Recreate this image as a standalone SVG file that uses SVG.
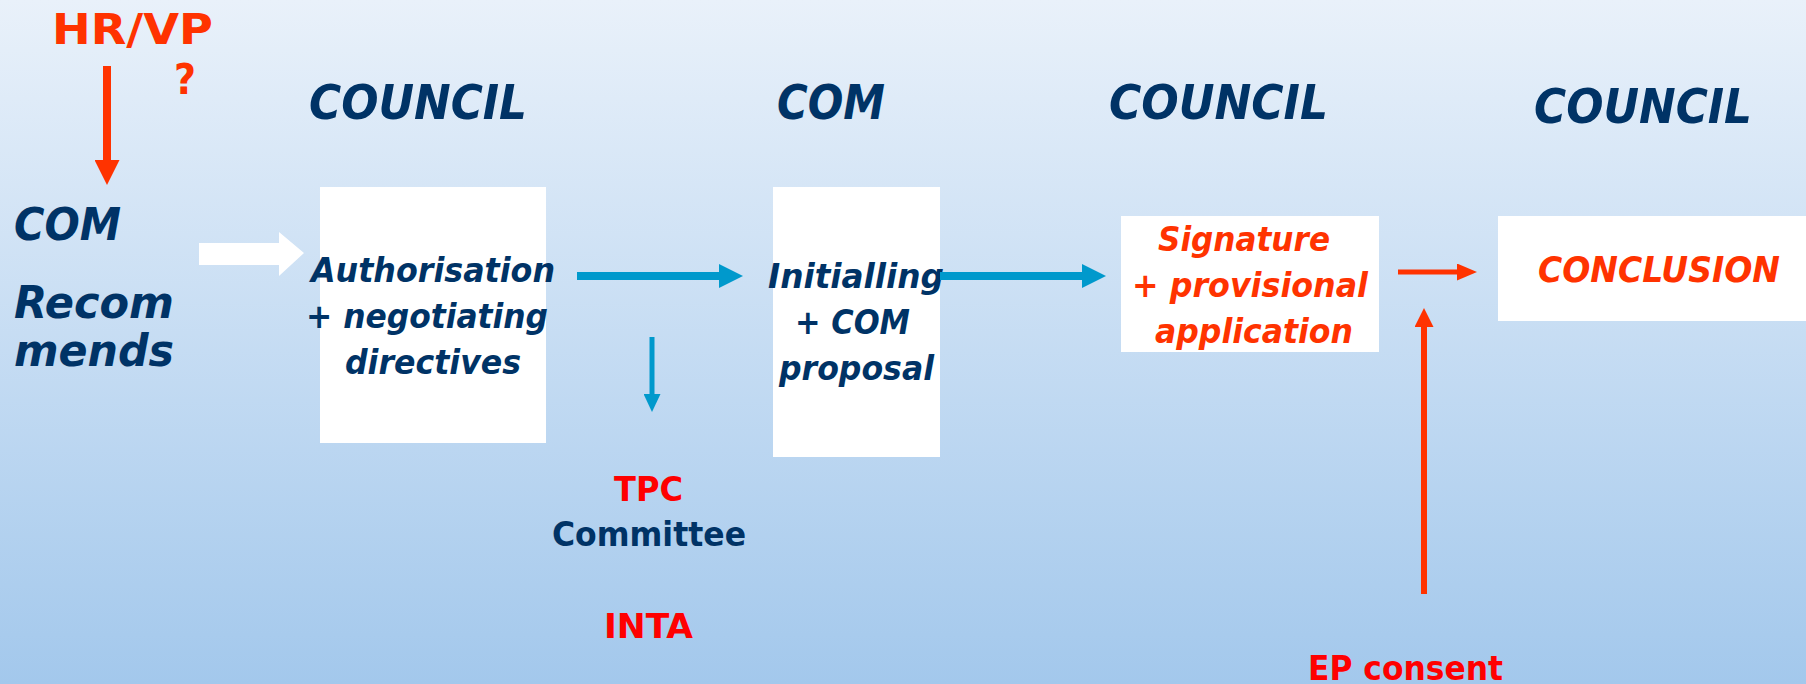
<svg xmlns="http://www.w3.org/2000/svg" width="1806" height="684" viewBox="0 0 1806 684">
<defs>
<linearGradient id="bg" x1="0" y1="0" x2="0" y2="1">
<stop offset="0" stop-color="#E9F1FA"/>
<stop offset="1" stop-color="#A3C8EC"/>
</linearGradient>
<marker id="hBlue" markerUnits="userSpaceOnUse" markerWidth="24" markerHeight="24" viewBox="0 0 24 24" refX="1" refY="12" orient="auto"><path d="M0,0 L24,12 L0,24 z" fill="#0099CC"/></marker>
<marker id="hBlueS" markerUnits="userSpaceOnUse" markerWidth="18" markerHeight="17" viewBox="0 0 18 17" refX="1" refY="8.5" orient="auto"><path d="M0,0 L18,8.5 L0,17 z" fill="#0099CC"/></marker>
<marker id="hRedL" markerUnits="userSpaceOnUse" markerWidth="25" markerHeight="25" viewBox="0 0 25 25" refX="1" refY="12.5" orient="auto"><path d="M0,0 L25,12.5 L0,25 z" fill="#FF3300"/></marker>
<marker id="hRedS" markerUnits="userSpaceOnUse" markerWidth="20" markerHeight="17" viewBox="0 0 20 17" refX="1" refY="8.5" orient="auto"><path d="M0,0 L20,8.5 L0,17 z" fill="#FF3300"/></marker>
<marker id="hRedM" markerUnits="userSpaceOnUse" markerWidth="19" markerHeight="19" viewBox="0 0 19 19" refX="1" refY="9.5" orient="auto"><path d="M0,0 L19,9.5 L0,19 z" fill="#FF3300"/></marker>
</defs>
<style>
text{font-family:"DejaVu Sans Condensed","DejaVu Sans","Liberation Sans",sans-serif;font-weight:bold}
.it{font-style:italic}
.navy{fill:#003366}
.orange{fill:#FF3300}
.red{fill:#FF0000}
.box{fill:#FFFFFF}
.bl{stroke:#0099CC;fill:none}
.rl{stroke:#FF3300;fill:none}
</style>
<rect x="0" y="0" width="1806" height="684" fill="url(#bg)"/>

<g id="hrvp">
<text x="52" y="44" font-size="42" class="orange" textLength="161" lengthAdjust="spacingAndGlyphs">HR/VP</text>
<text x="174" y="94" font-size="42" class="orange" textLength="22" lengthAdjust="spacingAndGlyphs">?</text>
</g>

<g id="com-recommends">
<text x="14" y="240" font-size="44" class="navy it" textLength="107" lengthAdjust="spacingAndGlyphs">COM</text>
<text x="14" y="318" font-size="44" class="navy it" textLength="160" lengthAdjust="spacingAndGlyphs">Recom</text>
<text x="14" y="366" font-size="44" class="navy it" textLength="160" lengthAdjust="spacingAndGlyphs">mends</text>
</g>

<g id="label-council1"><text x="309" y="119" font-size="48" class="navy it" textLength="218" lengthAdjust="spacingAndGlyphs">COUNCIL</text></g>
<g id="label-com"><text x="777" y="119" font-size="48" class="navy it" textLength="108" lengthAdjust="spacingAndGlyphs">COM</text></g>
<g id="label-council2"><text x="1109" y="119" font-size="48" class="navy it" textLength="219" lengthAdjust="spacingAndGlyphs">COUNCIL</text></g>
<g id="label-council3"><text x="1534" y="123" font-size="48" class="navy it" textLength="218" lengthAdjust="spacingAndGlyphs">COUNCIL</text></g>

<g id="box-authorisation">
<rect x="320" y="187" width="226" height="256" class="box"/>
<text x="311" y="282" font-size="34" class="navy it" textLength="244" lengthAdjust="spacingAndGlyphs">Authorisation</text>
<text x="306" y="328" font-size="34" class="navy it" textLength="242" lengthAdjust="spacingAndGlyphs">+ negotiating</text>
<text x="345" y="374" font-size="34" class="navy it" textLength="176" lengthAdjust="spacingAndGlyphs">directives</text>
</g>

<g id="box-initialling">
<rect x="773" y="187" width="167" height="270" class="box"/>
<text x="768" y="288" font-size="34" class="navy it" textLength="176" lengthAdjust="spacingAndGlyphs">Initialling</text>
<text x="795" y="334" font-size="34" class="navy it" textLength="115" lengthAdjust="spacingAndGlyphs">+ COM</text>
<text x="779" y="380" font-size="34" class="navy it" textLength="155" lengthAdjust="spacingAndGlyphs">proposal</text>
</g>

<g id="box-signature">
<rect x="1121" y="216" width="258" height="136" class="box"/>
<text x="1158" y="251" font-size="34" class="orange it" textLength="172" lengthAdjust="spacingAndGlyphs">Signature</text>
<text x="1132" y="297" font-size="34" class="orange it" textLength="236" lengthAdjust="spacingAndGlyphs">+ provisional</text>
<text x="1155" y="343" font-size="34" class="orange it" textLength="198" lengthAdjust="spacingAndGlyphs">application</text>
</g>

<g id="box-conclusion">
<rect x="1498" y="216" width="308" height="105" class="box"/>
<text x="1538" y="282" font-size="36" class="orange it" textLength="242" lengthAdjust="spacingAndGlyphs">CONCLUSION</text>
</g>

<g id="tpc">
<text x="614" y="501" font-size="33" class="red" textLength="69" lengthAdjust="spacingAndGlyphs">TPC</text>
<text x="552" y="546" font-size="33" class="navy" textLength="194" lengthAdjust="spacingAndGlyphs">Committee</text>
<text x="604" y="638" font-size="33" class="red" textLength="89" lengthAdjust="spacingAndGlyphs">INTA</text>
</g>

<g id="ep-consent">
<text x="1308" y="680" font-size="33" class="red" textLength="195" lengthAdjust="spacingAndGlyphs">EP consent</text>
</g>

<g id="connectors">
<line x1="107" y1="66" x2="107" y2="161" class="rl" stroke-width="8" marker-end="url(#hRedL)"/>
<polygon points="199,243 279,243 279,232 304,253 279,276 279,265 199,265" fill="#FFFFFF"/>
<line x1="577" y1="276" x2="720" y2="276" class="bl" stroke-width="8" marker-end="url(#hBlue)"/>
<line x1="652" y1="337" x2="652" y2="395" class="bl" stroke-width="5" marker-end="url(#hBlueS)"/>
<line x1="940" y1="276" x2="1083" y2="276" class="bl" stroke-width="8" marker-end="url(#hBlue)"/>
<line x1="1398" y1="272" x2="1458" y2="272" class="rl" stroke-width="5" marker-end="url(#hRedS)"/>
<line x1="1424" y1="594" x2="1424" y2="326" class="rl" stroke-width="6" marker-end="url(#hRedM)"/>
</g>
</svg>
